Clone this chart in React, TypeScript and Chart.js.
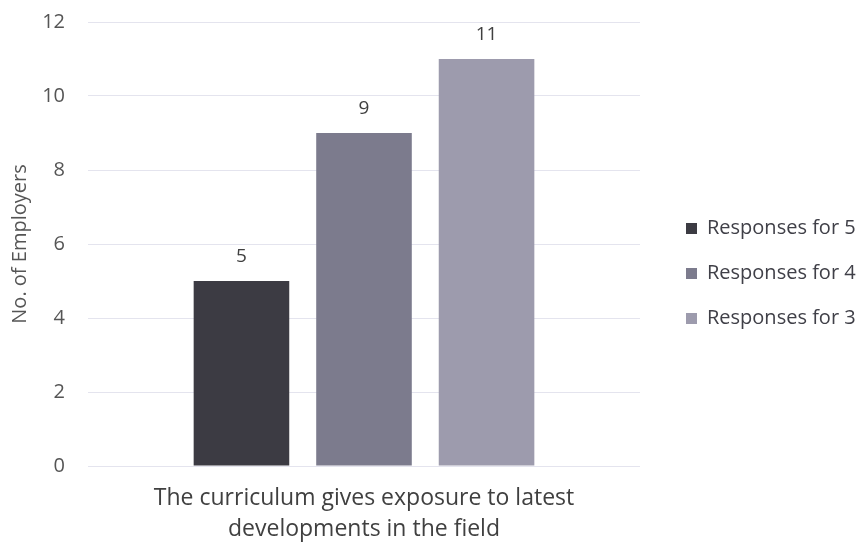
import React, { useEffect, useRef } from "react";
import { Chart, registerables } from "chart.js";

Chart.register(...registerables);

const categories: string[][] = [["The curriculum gives exposure to latest", "developments in the field"]];
const seriesNames = ["Responses for 5", "Responses for 4", "Responses for 3"];
const responses5 = [5];
const responses4 = [9];
const responses3 = [11];
const seriesColors = ["#3c3b43", "#7c7b8d", "#9d9bad"];
const yTicks = { min: 0, max: 12, step: 2 };
const yTitle = "No. of Employers";
const FONT = "'Open Sans', sans-serif";
const PLOT_RIGHT = 640;
const LEGEND_SHIFT_X = 21;
const LEGEND_SHIFT_Y = -11;

const valueLabels = {
  id: "valueLabels",
  afterDatasetsDraw(chart: any) {
    const ctx = chart.ctx;
    ctx.save();
    ctx.font = `19px ${FONT}`;
    ctx.fillStyle = "#404040";
    ctx.textAlign = "center";
    ctx.textBaseline = "alphabetic";
    chart.data.datasets.forEach((ds: any, i: number) => {
      const meta = chart.getDatasetMeta(i);
      meta.data.forEach((bar: any, j: number) => {
        ctx.fillText(String(ds.data[j]), bar.x, bar.y - 19);
      });
    });
    ctx.restore();
  },
};

const legendPlacement = {
  id: "legendPlacement",
  beforeLayout(chart: any) {
    const lg = chart.legend;
    if (lg && !lg._patched) {
      const orig = lg.fit.bind(lg);
      lg.fit = function () {
        orig();
        this.width = chart.width - PLOT_RIGHT;
      };
      lg._patched = true;
    }
  },
  afterLayout(chart: any) {
    const lg = chart.legend;
    if (lg) {
      lg.left += LEGEND_SHIFT_X;
      lg.right += LEGEND_SHIFT_X;
      lg.top += LEGEND_SHIFT_Y;
      lg.bottom += LEGEND_SHIFT_Y;
    }
  },
};

export default function App() {
  const ref = useRef<HTMLCanvasElement>(null);
  useEffect(() => {
    document.body.style.margin = "0";
    const chart = new Chart(ref.current!, {
      type: "bar",
      data: {
        labels: categories as any,
        datasets: [
          { label: seriesNames[0], data: responses5, backgroundColor: seriesColors[0] },
          { label: seriesNames[1], data: responses4, backgroundColor: seriesColors[1] },
          { label: seriesNames[2], data: responses3, backgroundColor: seriesColors[2] },
        ],
      },
      options: {
        animation: false,
        responsive: false,
        maintainAspectRatio: false,
        layout: { padding: { top: 22, right: 0, left: 0, bottom: 0 } },
        datasets: { bar: { categoryPercentage: 0.666, barPercentage: 0.78 } },
        plugins: {
          legend: {
            position: "right",
            labels: {
              font: { family: FONT, size: 20 },
              color: "#404048",
              boxWidth: 11,
              boxHeight: 11,
              padding: 25,
            },
          },
          tooltip: { enabled: false },
        },
        scales: {
          x: {
            grid: { display: false },
            border: { display: false },
            ticks: { font: { family: FONT, size: 23, lineHeight: 1.35 }, color: "#404040", padding: 9 },
            afterFit: (s: any) => { s.height = 81; },
          },
          y: {
            min: yTicks.min,
            max: yTicks.max,
            ticks: { stepSize: yTicks.step, font: { family: FONT, size: 20 }, color: "#555555", padding: 0 },
            grid: { color: "#e4e4ee", drawTicks: true, tickLength: 23, tickColor: "rgba(0,0,0,0)" },
            border: { display: false },
            title: { display: true, text: yTitle, font: { family: FONT, size: 20 }, color: "#555555", padding: { top: 8, bottom: 0 } },
            afterFit: (s: any) => { s.width = 88; },
          },
        },
      },
      plugins: [valueLabels, legendPlacement],
    });
    return () => chart.destroy();
  }, []);
  return (
    <div style={{ width: 861, height: 547 }}>
      <canvas ref={ref} width={861} height={547} />
    </div>
  );
}
